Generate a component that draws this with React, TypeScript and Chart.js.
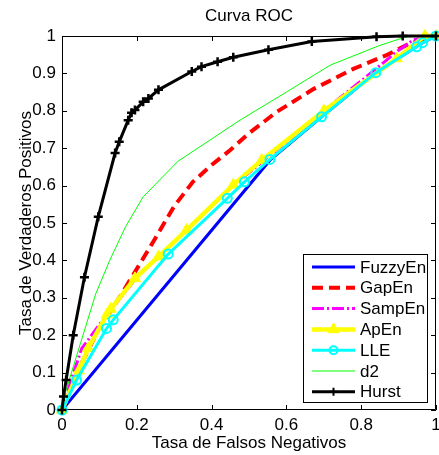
import React, { useEffect, useRef } from 'react';
import { Chart, registerables } from 'chart.js';
Chart.register(...registerables);

const chartTitle = 'Curva ROC';
const xTitle = 'Tasa de Falsos Negativos';
const yTitle = 'Tasa de Verdaderos Positivos';

const xTickValues = [0, 0.2, 0.4, 0.6, 0.8, 1];
const yTickValues = [0, 0.1, 0.2, 0.3, 0.4, 0.5, 0.6, 0.7, 0.8, 0.9, 1];

const seriesNames = ['FuzzyEn', 'GapEn', 'SampEn', 'ApEn', 'LLE', 'd2', 'Hurst'];

const fuzzyX = [0, 0.556, 0.694, 0.839, 0.964, 1];
const fuzzyY = [0, 0.668, 0.784, 0.902, 0.982, 1];

const gapX = [0, 0.05, 0.1, 0.155, 0.209, 0.25, 0.3, 0.35, 0.4, 0.45, 0.5, 0.574, 0.672, 0.779, 0.868, 0.93, 1];
const gapY = [0, 0.12, 0.22, 0.303, 0.392, 0.46, 0.545, 0.61, 0.655, 0.695, 0.74, 0.797, 0.858, 0.912, 0.949, 0.98, 1];

const sampX = [0, 0.026, 0.053, 0.12, 0.2, 0.3, 0.45, 0.55, 0.7, 0.8, 0.9, 0.94, 1];
const sampY = [0, 0.085, 0.165, 0.255, 0.355, 0.45, 0.593, 0.676, 0.8, 0.88, 0.962, 0.99, 1];

const apX = [0, 0.045, 0.07, 0.12, 0.13, 0.195, 0.258, 0.333, 0.458, 0.534, 0.7, 0.895, 0.97, 1];
const apY = [0, 0.105, 0.165, 0.255, 0.27, 0.352, 0.41, 0.481, 0.602, 0.668, 0.8, 0.94, 1.0, 1];

const lleX = [0, 0.039, 0.119, 0.137, 0.284, 0.442, 0.488, 0.556, 0.694, 0.839, 0.948, 0.964, 1];
const lleY = [0, 0.08, 0.218, 0.241, 0.417, 0.566, 0.61, 0.67, 0.784, 0.902, 0.971, 0.982, 1];

const d2X = [0, 0.01, 0.05, 0.09, 0.128, 0.17, 0.217, 0.31, 0.476, 0.6, 0.717, 0.85, 0.921, 1];
const d2Y = [0, 0.05, 0.18, 0.31, 0.401, 0.49, 0.57, 0.665, 0.775, 0.85, 0.922, 0.975, 0.998, 1];

const hurstX = [0, 0.004, 0.011, 0.03, 0.06, 0.097, 0.142, 0.153, 0.177, 0.186, 0.195, 0.217, 0.231, 0.258, 0.347, 0.373, 0.416, 0.458, 0.552, 0.668, 0.841, 0.911, 1];
const hurstY = [0, 0.036, 0.08, 0.2, 0.355, 0.517, 0.687, 0.717, 0.775, 0.795, 0.802, 0.824, 0.833, 0.856, 0.905, 0.918, 0.931, 0.943, 0.963, 0.985, 0.998, 1, 1];

const FONT_FAMILY = '"Liberation Sans", Arial, Helvetica, sans-serif';
const FONT_SIZE = 17;

const zip = (xs: number[], ys: number[]) => xs.map((x, i) => ({ x, y: ys[i] }));

const fmt = (v: number) => {
  if (Math.abs(v) < 1e-9) return '0';
  if (Math.abs(v - 1) < 1e-9) return '1';
  return v.toFixed(1);
};

type Marker = 'none' | 'triangle' | 'circle' | 'cross';

function drawMarker(ctx: CanvasRenderingContext2D, kind: Marker, x: number, y: number, color: string) {
  ctx.save();
  ctx.setLineDash([]);
  if (kind === 'triangle') {
    const r = 6.5;
    ctx.fillStyle = color;
    ctx.strokeStyle = color;
    ctx.lineWidth = 1;
    ctx.beginPath();
    ctx.moveTo(x, y - r);
    ctx.lineTo(x + r * Math.sin((2 * Math.PI) / 3), y - r * Math.cos((2 * Math.PI) / 3));
    ctx.lineTo(x + r * Math.sin((4 * Math.PI) / 3), y - r * Math.cos((4 * Math.PI) / 3));
    ctx.closePath();
    ctx.fill();
    ctx.stroke();
  } else if (kind === 'circle') {
    ctx.strokeStyle = color;
    ctx.lineWidth = 2;
    ctx.beginPath();
    ctx.arc(x, y, 4, 0, Math.PI * 2);
    ctx.stroke();
  } else if (kind === 'cross') {
    ctx.strokeStyle = color;
    ctx.lineWidth = 2;
    ctx.beginPath();
    ctx.moveTo(x - 4, y);
    ctx.lineTo(x + 4, y);
    ctx.moveTo(x, y - 4);
    ctx.lineTo(x, y + 4);
    ctx.stroke();
  }
  ctx.restore();
}

const legendMarkers: Marker[] = ['none', 'none', 'none', 'triangle', 'circle', 'none', 'cross'];

const framePlugin = {
  id: 'matlabFrame',
  beforeDatasetsDraw(chart: any) {
    const { ctx, chartArea, scales } = chart;
    const { left, right, top, bottom } = chartArea;
    ctx.save();
    ctx.strokeStyle = '#000';
    ctx.lineWidth = 1;
    ctx.setLineDash([]);
    ctx.beginPath();
    ctx.rect(Math.round(left) + 0.5, Math.round(top) + 0.5, Math.round(right - left) - 1, Math.round(bottom - top) - 1);
    ctx.stroke();
    const tl = 5;
    ctx.beginPath();
    for (const v of xTickValues) {
      const px = Math.round(scales.x.getPixelForValue(v)) + 0.5;
      ctx.moveTo(px, bottom);
      ctx.lineTo(px, bottom - tl);
      ctx.moveTo(px, top);
      ctx.lineTo(px, top + tl);
    }
    for (const v of yTickValues) {
      const py = Math.round(scales.y.getPixelForValue(v)) + 0.5;
      ctx.moveTo(left, py);
      ctx.lineTo(left + tl, py);
      ctx.moveTo(right, py);
      ctx.lineTo(right - tl, py);
    }
    ctx.stroke();
    ctx.restore();
  },
  afterDraw(chart: any) {
    const { ctx, chartArea } = chart;
    const boxRight = Math.round(chartArea.right) - 8;
    const boxBottom = Math.round(chartArea.bottom) - 7;
    const boxW = 125;
    const boxH = 149;
    const bx = boxRight - boxW;
    const by = boxBottom - boxH;
    ctx.save();
    ctx.fillStyle = '#fff';
    ctx.fillRect(bx, by, boxW, boxH);
    ctx.strokeStyle = '#000';
    ctx.lineWidth = 1;
    ctx.setLineDash([]);
    ctx.strokeRect(bx + 0.5, by + 0.5, boxW - 1, boxH - 1);
    const rowH = 20.8;
    chart.data.datasets.forEach((ds: any, i: number) => {
      const cy = by + 13 + i * rowH;
      const x0 = bx + 9;
      const x1 = bx + 52;
      ctx.save();
      ctx.strokeStyle = ds.borderColor;
      ctx.lineWidth = ds.borderWidth;
      ctx.setLineDash(ds.borderDash || []);
      ctx.beginPath();
      ctx.moveTo(x0, cy);
      ctx.lineTo(x1, cy);
      ctx.stroke();
      ctx.restore();
      drawMarker(ctx, legendMarkers[i], (x0 + x1) / 2, cy, ds.borderColor);
      ctx.fillStyle = '#000';
      ctx.font = `${FONT_SIZE}px ${FONT_FAMILY}`;
      ctx.textAlign = 'left';
      ctx.textBaseline = 'middle';
      ctx.fillText(ds.label, bx + 57, cy + 1);
    });
    ctx.restore();
  },
};

export default function App() {
  const canvasRef = useRef<HTMLCanvasElement | null>(null);

  useEffect(() => {
    if (!canvasRef.current) return;
    const font = { family: FONT_FAMILY, size: FONT_SIZE, weight: 'normal' as const, lineHeight: 1.2 };
    const chart = new Chart(canvasRef.current, {
      type: 'scatter',
      data: {
        datasets: [
          {
            label: seriesNames[0], data: zip(fuzzyX, fuzzyY), showLine: true, borderColor: '#0000ff',
            borderWidth: 3, pointRadius: 0, order: 6, clip: false as any,
          },
          {
            label: seriesNames[1], data: zip(gapX, gapY), showLine: true, borderColor: '#ff0000',
            borderWidth: 4, borderDash: [11, 6], pointRadius: 0, order: 5, clip: false as any,
          },
          {
            label: seriesNames[2], data: zip(sampX, sampY), showLine: true, borderColor: '#ff00ff',
            borderWidth: 3, borderDash: [12, 3, 2, 3], pointRadius: 0, order: 4, clip: false as any,
          },
          {
            label: seriesNames[3], data: zip(apX, apY), showLine: true, borderColor: '#ffff00',
            borderWidth: 4.5, pointStyle: 'triangle', pointRadius: 6.5, pointBackgroundColor: '#ffff00',
            pointBorderColor: '#ffff00', pointBorderWidth: 1, order: 3, clip: false as any,
          },
          {
            label: seriesNames[4], data: zip(lleX, lleY), showLine: true, borderColor: '#00ffff',
            borderWidth: 3, pointStyle: 'circle', pointRadius: 4.5, pointBackgroundColor: 'rgba(0,0,0,0)',
            pointBorderColor: '#00ffff', pointBorderWidth: 2, order: 2, clip: false as any,
          },
          {
            label: seriesNames[5], data: zip(d2X, d2Y), showLine: true, borderColor: '#00ff00',
            borderWidth: 1, pointRadius: 0, order: 1, clip: false as any,
          },
          {
            label: seriesNames[6], data: zip(hurstX, hurstY), showLine: true, borderColor: '#000000',
            borderWidth: 3, pointStyle: 'cross', pointRadius: 4.5, pointBorderColor: '#000000',
            pointBorderWidth: 2.5, order: 0, clip: false as any,
          },
        ],
      },
      options: {
        responsive: false,
        animation: false,
        events: [],
        layout: { autoPadding: false, padding: { left: 0, right: 3, top: 0, bottom: 0 } },
        plugins: {
          legend: { display: false },
          tooltip: { enabled: false },
          title: {
            display: true,
            fullSize: false,
            text: chartTitle,
            color: '#000',
            font,
            padding: { top: 6, bottom: 9.6 },
          },
        },
        scales: {
          x: {
            type: 'linear',
            min: 0,
            max: 1,
            afterFit: (s: any) => { s.height = 45; s.paddingLeft = 0; s.paddingRight = 0; },
            afterBuildTicks: (s: any) => { s.ticks = xTickValues.map((v) => ({ value: v })); },
            grid: { display: false, drawTicks: false },
            border: { display: false },
            ticks: { color: '#000', font, padding: 5, maxRotation: 0, autoSkip: false, callback: (v: any) => fmt(Number(v)) },
            title: { display: true, text: xTitle, color: '#000', font, padding: { top: 0, bottom: 1.5 } },
          },
          y: {
            type: 'linear',
            min: 0,
            max: 1,
            afterFit: (s: any) => { s.width = 62; s.paddingTop = 0; s.paddingBottom = 0; },
            afterBuildTicks: (s: any) => { s.ticks = yTickValues.map((v) => ({ value: v })); },
            grid: { display: false, drawTicks: false },
            border: { display: false },
            ticks: { color: '#000', font, padding: 6, autoSkip: false, callback: (v: any) => fmt(Number(v)) },
            title: { display: true, text: yTitle, color: '#000', font, padding: { top: 16, bottom: 0 } },
          },
        },
      },
      plugins: [framePlugin],
    } as any);
    return () => chart.destroy();
  }, []);

  return (
    <div style={{ position: 'absolute', left: 0, top: 0, width: 439, height: 455, background: '#fff' }}>
      <canvas ref={canvasRef} width={439} height={455} style={{ width: 439, height: 455, display: 'block' }} />
    </div>
  );
}
